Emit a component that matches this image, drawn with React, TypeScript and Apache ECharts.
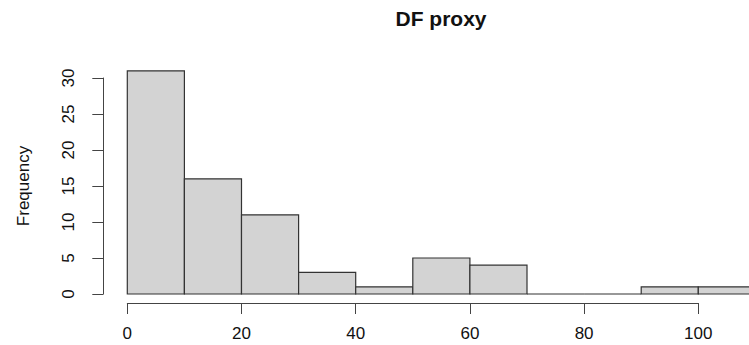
import React, { useEffect, useRef } from "react";
import * as echarts from "echarts";

const binStarts = [0, 10, 20, 30, 40, 50, 60, 70, 80, 90, 100];
const binWidth = 10;
const counts = [31, 16, 11, 3, 1, 5, 4, 0, 0, 1, 1];
const xTicks = [0, 20, 40, 60, 80, 100];
const yTicks = [0, 5, 10, 15, 20, 25, 30];
const title = "DF proxy";
const yName = "Frequency";

const FONT = '"Liberation Sans", Arial, Helvetica, sans-serif';

export default function App() {
  const ref = useRef<HTMLDivElement>(null);
  useEffect(() => {
    if (!ref.current) return;
    const chart = echarts.init(ref.current, null, { renderer: "svg" });
    const data = binStarts.map((s, i) => [s, s + binWidth, counts[i]]);
    chart.setOption({
      animation: false,
      backgroundColor: "#ffffff",
      textStyle: { fontFamily: FONT },
      graphic: [
        {
          type: "text",
          x: 441,
          y: 18,
          style: {
            text: title,
            fontFamily: FONT,
            fontWeight: "bold",
            fontSize: 21,
            fill: "#111",
            textAlign: "center",
            textVerticalAlign: "middle",
          },
        },
      ],
      grid: { left: 127.3, width: 571, top: 78, height: 216 },
      xAxis: {
        type: "value",
        min: 0,
        max: 100,
        interval: 20,
        offset: 9,
        splitLine: { show: false },
        axisLine: { show: true, onZero: false, lineStyle: { color: "#444", width: 1 } },
        axisTick: { show: true, length: 11, lineStyle: { color: "#444", width: 1 } },
        axisLabel: {
          show: true,
          margin: 22,
          fontSize: 17,
          color: "#111",
          fontFamily: FONT,
          customValues: xTicks,
        },
      },
      yAxis: {
        type: "value",
        min: 0,
        max: 30,
        interval: 5,
        offset: 24,
        name: yName,
        nameLocation: "middle",
        nameRotate: 90,
        nameGap: 71,
        nameTextStyle: { fontSize: 17, color: "#111", fontFamily: FONT },
        splitLine: { show: false },
        axisLine: { show: true, onZero: false, lineStyle: { color: "#444", width: 1 } },
        axisTick: { show: true, length: 11, lineStyle: { color: "#444", width: 1 } },
        axisLabel: {
          show: true,
          rotate: 90,
          margin: 26,
          fontSize: 17,
          color: "#111",
          fontFamily: FONT,
          customValues: yTicks,
        },
      },
      series: [
        {
          type: "custom",
          clip: false,
          data,
          renderItem: (params: any, api: any) => {
            const x0 = api.value(0);
            const x1 = api.value(1);
            const c = api.value(2);
            const p0 = api.coord([x0, c]);
            const p1 = api.coord([x1, 0]);
            return {
              type: "rect",
              shape: { x: p0[0], y: p0[1], width: p1[0] - p0[0], height: p1[1] - p0[1] },
              style: { fill: "#d3d3d3", stroke: "#333", lineWidth: 1.2 },
            };
          },
        },
      ],
    });
    return () => chart.dispose();
  }, []);
  return (
    <div
      ref={ref}
      style={{ position: "fixed", left: 0, top: 0, width: 749, height: 345, background: "#fff" }}
    />
  );
}
